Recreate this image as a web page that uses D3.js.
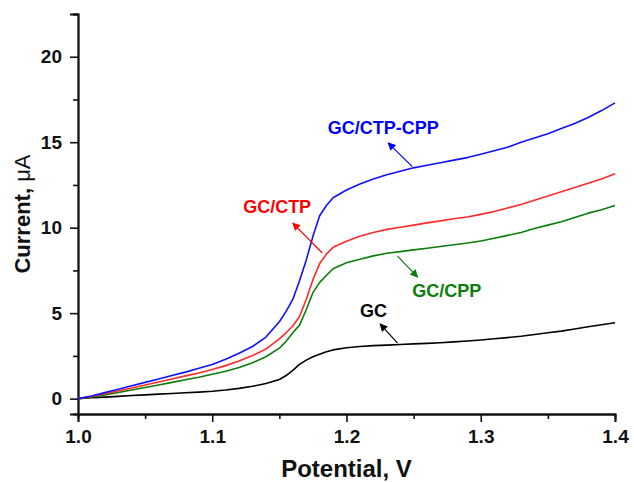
<!DOCTYPE html>
<html>
<head>
<meta charset="utf-8">
<script src="https://cdn.jsdelivr.net/npm/d3@7"></script>
<style>
	body {margin:0; background:#fff;}
	svg {display:block; font-family:"Liberation Sans", Arial, sans-serif; font-weight:bold;}
</style>
</head>
<body>
<div id="ChartDiv"></div>
<script>
/* globals d3 */

// potential (V) and current (uA)
var Potential = [1.00,1.01,1.02,1.03,1.04,1.05,1.06,1.07,1.08,1.09,1.10,1.11,1.12,1.13,1.14,1.15,1.155,1.16,1.165,1.17,1.175,1.18,1.185,1.19,
	1.20,1.21,1.22,1.23,1.24,1.25,1.26,1.27,1.28,1.29,1.30,1.31,1.32,1.33,1.34,1.35,1.36,1.37,1.38,1.39,1.40];

var CurrentGC = [0,0.05,0.09,0.13,0.18,0.22,0.26,0.30,0.34,0.38,0.43,0.50,0.60,0.72,0.88,1.12,1.35,1.65,2.00,2.25,2.45,2.60,2.74,2.85,
	2.98,3.05,3.10,3.13,3.17,3.20,3.23,3.27,3.32,3.37,3.43,3.50,3.57,3.65,3.75,3.85,3.95,4.07,4.20,4.32,4.44];
var CurrentCPP = [0,0.10,0.22,0.36,0.50,0.65,0.80,0.95,1.10,1.25,1.42,1.60,1.82,2.10,2.45,2.95,3.35,3.85,4.30,5.20,6.20,6.80,7.20,7.60,
	7.95,8.15,8.35,8.50,8.60,8.70,8.80,8.90,9.00,9.10,9.22,9.38,9.55,9.72,9.95,10.15,10.35,10.60,10.85,11.05,11.30];
var CurrentCTP = [0,0.12,0.28,0.45,0.62,0.80,0.97,1.15,1.33,1.50,1.70,1.93,2.20,2.52,2.90,3.50,3.85,4.25,4.80,5.80,6.96,7.90,8.45,8.85,
	9.20,9.50,9.72,9.90,10.02,10.15,10.28,10.40,10.52,10.62,10.78,10.95,11.15,11.35,11.60,11.85,12.10,12.35,12.60,12.85,13.15];
var CurrentCTPCPP = [0,0.15,0.35,0.55,0.75,0.95,1.15,1.35,1.55,1.78,2.00,2.30,2.65,3.05,3.60,4.50,5.10,5.80,6.90,8.10,9.50,10.70,11.30,11.75,
	12.20,12.55,12.85,13.10,13.30,13.50,13.65,13.80,13.95,14.10,14.30,14.50,14.70,15.00,15.25,15.50,15.80,16.10,16.45,16.85,17.30];

var SeriesNames = ["GC","GC/CPP","GC/CTP","GC/CTP-CPP"];
var SeriesColors = ["#000000","#0a7d0a","#ff2a2a","#1010ff"];
var LabelColors = ["#000000","#0a7d0a","#ff0000","#0000ff"];

var XTicks = [1.0,1.1,1.2,1.3,1.4];
var YTicks = [0,5,10,15,20];

// label start (potential, current) and arrow tail/head in data units
var LabelPos = [[1.210,4.77],[1.249,5.95],[1.123,10.85],[1.186,15.48]];
var ArrowTail = [[1.238,3.25],[1.238,8.34],[1.182,8.52],[1.249,13.57]];
var ArrowHead = [[1.225,4.37],[1.253,7.11],[1.160,10.27],[1.231,14.96]];

var Width = 634, Height = 482;
var XScale = d3.scaleLinear().domain([1.0,1.4]).range([78,615]);
var YScale = d3.scaleLinear().domain([-0.9,22.5]).range([414,14]);

var Svg = d3.select("#ChartDiv").append("svg").attr("width",Width).attr("height",Height);

Svg.append("defs").selectAll("marker")
	.data(SeriesNames)
	.enter().append("marker")
	.attr("id",function(d,i) {return "Arrow"+i;})
	.attr("viewBox","0 0 10 10").attr("refX",9).attr("refY",5)
	.attr("markerWidth",9).attr("markerHeight",8).attr("markerUnits","userSpaceOnUse")
	.attr("orient","auto")
	.append("path").attr("d","M0,0 L10,5 L0,10 z")
	.attr("fill",function(d,i) {return LabelColors[i];});

DrawAxes();
DrawCurves();
DrawLabels();

function DrawAxes() {
	var XMinor = d3.axisBottom(XScale).tickValues([1.05,1.15,1.25,1.35]).tickSize(5).tickFormat("");
	var YMinor = d3.axisLeft(YScale).tickValues([2.5,7.5,12.5,17.5,22.5]).tickSize(5).tickFormat("");
	var XAxis = d3.axisBottom(XScale).tickValues(XTicks).tickSize(8).tickPadding(8).tickFormat(d3.format(".1f"));
	var YAxis = d3.axisLeft(YScale).tickValues(YTicks).tickSize(8).tickPadding(8).tickFormat(d3.format("d"));

	Svg.append("g").attr("transform","translate(0,414)").call(XMinor);
	Svg.append("g").attr("transform","translate(78,0)").call(YMinor);
	var XG = Svg.append("g").attr("transform","translate(0,414)").call(XAxis);
	var YG = Svg.append("g").attr("transform","translate(78,0)").call(YAxis);

	Svg.selectAll(".domain").attr("stroke","#111").attr("stroke-width",1.8);
	Svg.selectAll(".tick line").attr("stroke","#111").attr("stroke-width",1.6);
	XG.selectAll("text").attr("font-size",19).attr("font-weight","bold").attr("fill","#111")
		.attr("font-family","'Liberation Sans', Arial, sans-serif");
	YG.selectAll("text").attr("font-size",19).attr("font-weight","bold").attr("fill","#111")
		.attr("font-family","'Liberation Sans', Arial, sans-serif");

	Svg.append("text").attr("x",XScale(1.2)).attr("y",477).attr("text-anchor","middle")
		.attr("font-size",24).attr("fill","#111").text("Potential, V");
	var YTitle = Svg.append("text").attr("transform","translate(30,214) rotate(-90)").attr("text-anchor","middle")
		.attr("font-size",22).attr("fill","#111");
	YTitle.append("tspan").text("Current, ");
	YTitle.append("tspan").attr("font-weight","normal").text("\u03bcA");
}

function DrawCurves() {
	var AllSeries = [CurrentGC,CurrentCPP,CurrentCTP,CurrentCTPCPP];
	var Line = d3.line()
		.x(function(d,i) {return XScale(Potential[i]);})
		.y(function(d) {return YScale(d);});

	Svg.append("g").selectAll("path")
		.data(AllSeries)
		.enter().append("path")
		.attr("d",Line)
		.attr("fill","none")
		.attr("stroke",function(d,i) {return SeriesColors[i];})
		.attr("stroke-width",1.6)
		.attr("stroke-linejoin","round");
}

function DrawLabels() {
	var G = Svg.append("g");
	G.selectAll("line")
		.data(SeriesNames)
		.enter().append("line")
		.attr("x1",function(d,i) {return XScale(ArrowTail[i][0]);})
		.attr("y1",function(d,i) {return YScale(ArrowTail[i][1]);})
		.attr("x2",function(d,i) {return XScale(ArrowHead[i][0]);})
		.attr("y2",function(d,i) {return YScale(ArrowHead[i][1]);})
		.attr("stroke",function(d,i) {return LabelColors[i];})
		.attr("stroke-width",1.2)
		.attr("marker-end",function(d,i) {return "url(#Arrow"+i+")";});

	G.selectAll("text")
		.data(SeriesNames)
		.enter().append("text")
		.attr("x",function(d,i) {return XScale(LabelPos[i][0]);})
		.attr("y",function(d,i) {return YScale(LabelPos[i][1]);})
		.attr("text-anchor","start")
		.attr("font-size",18)
		.attr("fill",function(d,i) {return LabelColors[i];})
		.text(function(d) {return d;});
}
</script>
</body>
</html>
